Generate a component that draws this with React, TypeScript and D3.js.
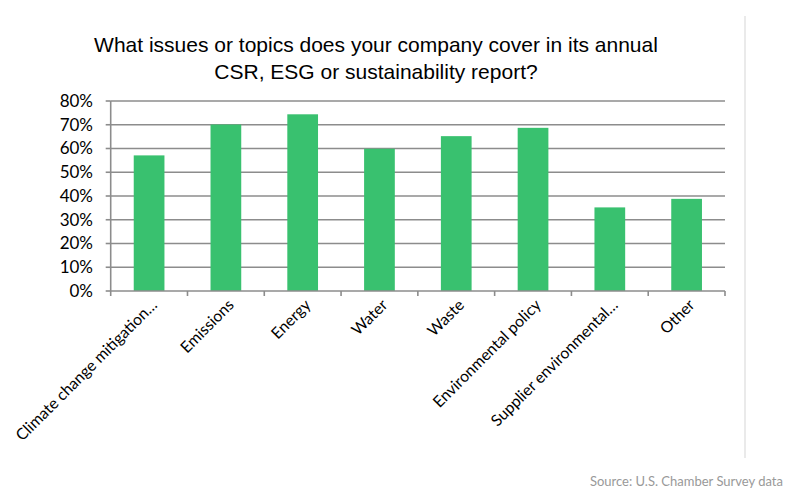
import React from "react";
import * as d3 from "d3";

const categories = [
  "Climate change mitigation…",
  "Emissions",
  "Energy",
  "Water",
  "Waste",
  "Environmental policy",
  "Supplier environmental…",
  "Other",
];
const values = [0.571, 0.701, 0.744, 0.599, 0.652, 0.687, 0.352, 0.388];
const yTicks = [0, 0.1, 0.2, 0.3, 0.4, 0.5, 0.6, 0.7, 0.8];
const titleLines = [
  "What issues or topics does your company cover in its annual",
  "CSR, ESG or sustainability report?",
];
const sourceText = "Source: U.S. Chamber Survey data";

export default function App() {
  const W = 793;
  const H = 498;
  const left = 110.7;
  const right = 725;
  const top = 101;
  const bottom = 291;

  const x = d3.scaleBand<string>().domain(categories).range([left, right]).paddingInner(0.6).paddingOuter(0.3);
  const band = d3.scaleBand<string>().domain(categories).range([left, right]);
  const y = d3.scaleLinear().domain([0, 0.8]).range([bottom, top]);
  const fmt = d3.format(".0%");
  const labelFont = "Lato, 'Open Sans', sans-serif";

  return (
    <svg width={W} height={H} style={{ position: "absolute", left: 0, top: 0, background: "#fff" }}>
      <rect x={0} y={0} width={W} height={H} fill="#fff" />
      {titleLines.map((t, i) => (
        <text
          key={i}
          x={376}
          y={52 + i * 27}
          textAnchor="middle"
          fontFamily="'Liberation Sans', Arial, sans-serif"
          fontSize={21}
          fill="#000"
        >
          {t}
        </text>
      ))}
      {yTicks.map((t) => (
        <g key={t}>
          {t > 0 && (
            <line x1={left} x2={right} y1={y(t)} y2={y(t)} stroke="#8c8c8c" strokeWidth={1.6} />
          )}
          <line x1={left - 5} x2={left} y1={y(t)} y2={y(t)} stroke="#8c8c8c" strokeWidth={1.6} />
          <text
            x={93}
            y={y(t)}
            dy="0.35em"
            textAnchor="end"
            fontFamily={labelFont}
            fontSize={17}
            fill="#000"
          >
            {fmt(t)}
          </text>
        </g>
      ))}
      {categories.map((c, i) => (
        <rect
          key={c}
          x={x(c)}
          y={y(values[i])}
          width={x.bandwidth()}
          height={bottom - y(values[i])}
          fill="#39c16f"
        />
      ))}
      <line x1={left} x2={left} y1={top} y2={bottom} stroke="#8c8c8c" strokeWidth={1.6} />
      <line x1={left} x2={right} y1={bottom} y2={bottom} stroke="#8c8c8c" strokeWidth={1.6} />
      {d3.range(categories.length + 1).map((i) => {
        const tx = left + i * band.step();
        return <line key={i} x1={tx} x2={tx} y1={bottom} y2={bottom + 5} stroke="#8c8c8c" strokeWidth={1.6} />;
      })}
      {categories.map((c) => {
        const cx = (band(c) as number) + band.bandwidth() / 2;
        return (
          <text
            key={c}
            transform={`translate(${cx + 9},${bottom + 15}) rotate(-45)`}
            textAnchor="end"
            fontFamily={labelFont}
            fontSize={15.8}
            fill="#000"
          >
            {c}
          </text>
        );
      })}
      <line x1={745} x2={745} y1={16} y2={458} stroke="#e3e3e3" strokeWidth={1.5} />
      <text
        x={783}
        y={486}
        textAnchor="end"
        fontFamily={labelFont}
        fontSize={13}
        fill="#999"
      >
        {sourceText}
      </text>
    </svg>
  );
}
